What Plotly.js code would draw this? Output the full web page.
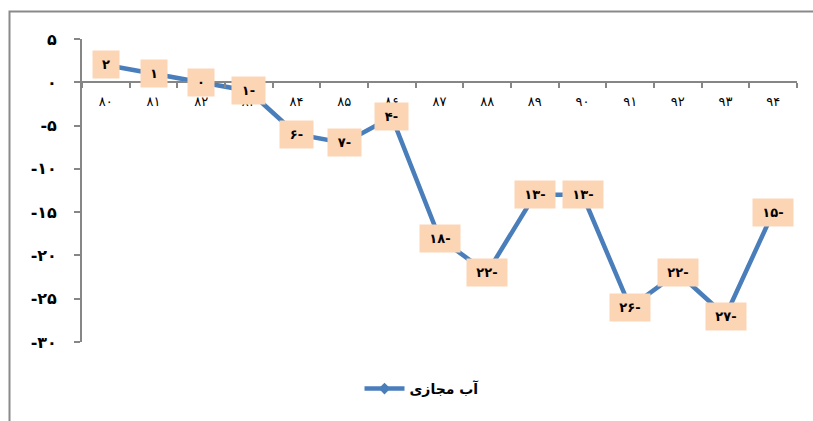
<!DOCTYPE html>
<html>
<head>
<meta charset="utf-8">
<script src="https://cdn.plot.ly/plotly-3.0.1.min.js"></script>
<style>
  html, body { margin: 0; padding: 0; background: #fff; }
  #chart { width: 813px; height: 421px; }
</style>
</head>
<body>
<div id="chart"></div>
<script>
// Years (Persian calendar) along the horizontal axis
const years = ['۸۰', '۸۱', '۸۲', '۸۳', '۸۴', '۸۵', '۸۶', '۸۷', '۸۸', '۸۹', '۹۰', '۹۱', '۹۲', '۹۳', '۹۴'];
// Virtual water balance per year
const virtualWater = [2, 1, 0, -1, -6, -7, -4, -18, -22, -13, -13, -26, -22, -27, -15];
const seriesName = 'آب مجازی';

// Vertical axis ticks
const yTickVals = [5, 0, -5, -10, -15, -20, -25, -30];
const yTickText = ['۵', '۰', '-۵', '-۱۰', '-۱۵', '-۲۰', '-۲۵', '-۳۰'];

const faDigits = '۰۱۲۳۴۵۶۷۸۹';
function toFa(v) {
  const s = String(Math.abs(Math.round(v))).replace(/\d/g, d => faDigits[d]);
  return v < 0 ? s + '-' : s;
}

const yMin = -30, yMax = 5;
const axisGrey = '#868686';
const lineBlue = '#4A7EBB';

const trace = {
  type: 'scatter',
  mode: 'lines+markers',
  x: years,
  y: virtualWater,
  name: seriesName,
  line: { color: lineBlue, width: 4.5 },
  marker: { symbol: 'diamond', size: 9, color: lineBlue },
  hoverinfo: 'skip'
};

// value boxes on each point
const annotations = years.map((yr, i) => {
  const label = toFa(virtualWater[i]);
  return {
    x: yr,
    y: virtualWater[i],
    xref: 'x',
    yref: 'y',
    text: label,
    width: 7 + 7 * label.length,
    showarrow: false,
    bgcolor: '#FCD5B5',
    borderpad: 6,
    font: { family: 'DejaVu Sans, sans-serif', size: 13, color: '#000', weight: 'bold' }
  };
});

// plot-area geometry in pixels, used for the outer frame and legend
const W = 813, H = 421;
const mL = 82, mR = 16, mT = 39, mB = 79;
const pw = W - mL - mR, ph = H - mT - mB;
const px = v => (v - mL) / pw;
const py = v => (H - mB - v) / ph;

const layout = {
  width: W,
  height: H,
  margin: { l: mL, r: mR, t: mT, b: mB },
  paper_bgcolor: '#fff',
  plot_bgcolor: 'rgba(0,0,0,0)',
  showlegend: true,
  legend: {
    orientation: 'h',
    x: px(422),
    xanchor: 'center',
    y: py(389),
    yanchor: 'middle',
    font: { family: 'DejaVu Sans, sans-serif', size: 14, color: '#000', weight: 'bold' },
    itemwidth: 40
  },
  xaxis: {
    type: 'category',
    range: [-0.5, years.length - 0.5],
    anchor: 'free',
    position: (0 - yMin) / (yMax - yMin),
    showline: true,
    linecolor: axisGrey,
    linewidth: 2,
    ticks: 'outside',
    tickson: 'boundaries',
    ticklen: 5,
    tickwidth: 2,
    tickcolor: axisGrey,
    showgrid: false,
    zeroline: false,
    tickfont: { family: 'DejaVu Sans, sans-serif', size: 13, color: '#000' },
    ticklabelstandoff: 7,
    fixedrange: true
  },
  yaxis: {
    range: [yMin, yMax],
    tickvals: yTickVals,
    ticktext: yTickText,
    showline: true,
    linecolor: axisGrey,
    linewidth: 2,
    ticks: 'outside',
    ticklen: 6,
    tickwidth: 2,
    tickcolor: axisGrey,
    showgrid: false,
    zeroline: false,
    tickfont: { family: 'DejaVu Sans, sans-serif', size: 16, color: '#000', weight: 'bold' },
    ticklabelstandoff: 14,
    fixedrange: true
  },
  shapes: [
    {
      type: 'path', xref: 'paper', yref: 'paper',
      path: `M ${px(9.5)} ${py(428)} L ${px(9.5)} ${py(11.5)} L ${px(813)} ${py(11.5)}`,
      line: { color: '#8a8a8a', width: 2 }
    }
  ],
  annotations: annotations
};

Plotly.newPlot('chart', [trace], layout, { displayModeBar: false, staticPlot: true });
</script>
</body>
</html>
